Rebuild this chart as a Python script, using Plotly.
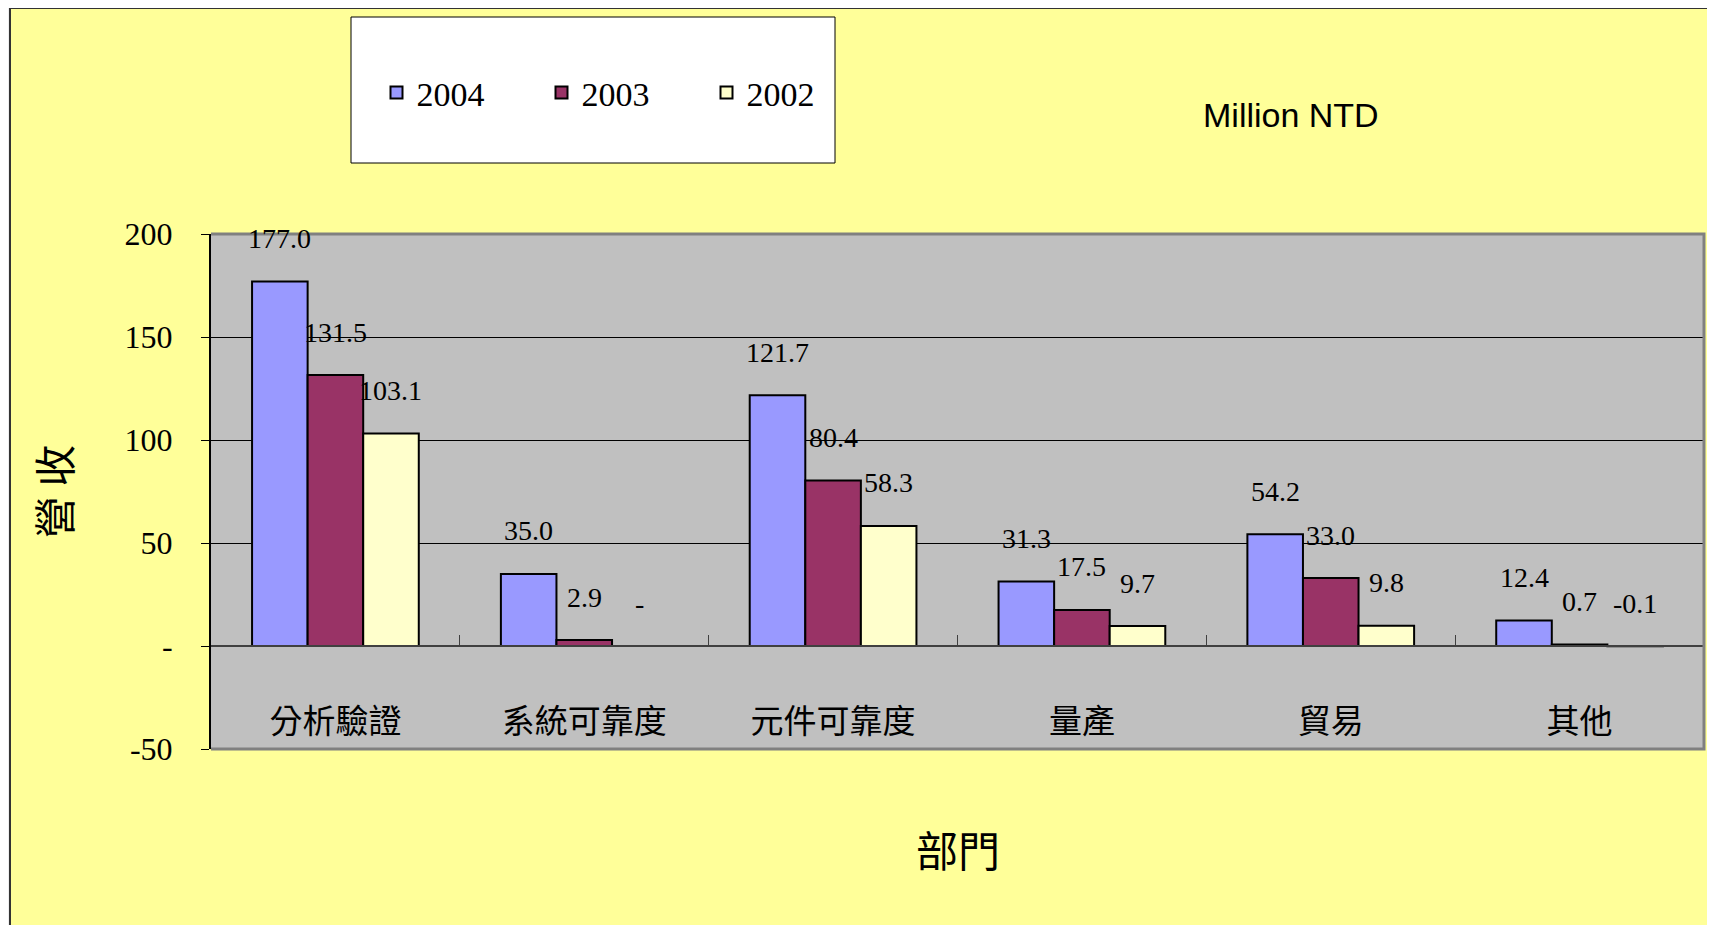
import plotly.graph_objects as go

categories = ["分析驗證", "系統可靠度", "元件可靠度", "量產", "貿易", "其他"]
years = ["2004", "2003", "2002"]
v2004 = [177.0, 35.0, 121.7, 31.3, 54.2, 12.4]
v2003 = [131.5, 2.9, 80.4, 17.5, 33.0, 0.7]
v2002 = [103.1, 0.0, 58.3, 9.7, 9.8, -0.1]
series = [v2004, v2003, v2002]
colors = ["#9999FF", "#993366", "#FFFFCC"]
ytick_vals = [-50, 0, 50, 100, 150, 200]
ytick_text = ["-50", "-", "50", "100", "150", "200"]

# page geometry (browser body has an 8px margin)
OFF = 8
PAGE_W, PAGE_H = 1715, 925
W, H = PAGE_W - OFF, PAGE_H - OFF
PL, PR, PT, PB = 211, 1704, 234, 749          # plot area in page pixels
ML, MT = PL - OFF, PT - OFF
MR, MB = (OFF + W) - PR, (OFF + H) - PB
PW, PH = PR - PL, PB - PT
BARGAP = 0.33


def px_x(p):
    return (p - PL) / PW


def px_y(p):
    return (PB - p) / PH


fig = go.Figure()
for name, vals, col in zip(years, series, colors):
    fig.add_trace(go.Bar(
        x=categories, y=vals, name=name,
        marker=dict(color=col, line=dict(color="black", width=2)),
    ))

# value labels
bw = (1 - BARGAP) / len(series)
annotations = []
for j, vals in enumerate(series):
    for i, v in enumerate(vals):
        txt = "-" if v == 0 else f"{v:.1f}"
        annotations.append(dict(
            x=i + (j - 1) * bw, y=max(v, 0), xref="x", yref="y",
            text=txt, showarrow=False, xanchor="center", yanchor="middle", yshift=43,
            font=dict(family="Liberation Serif", size=28, color="black"),
        ))

annotations.append(dict(
    x=px_x(958), y=px_y(848), xref="paper", yref="paper", text="部門",
    showarrow=False, xanchor="center", yanchor="middle",
    font=dict(family="Noto Sans CJK TC", size=42, color="black"),
))
annotations.append(dict(
    x=px_x(1291), y=px_y(115), xref="paper", yref="paper", text="Million NTD",
    showarrow=False, xanchor="center", yanchor="middle",
    font=dict(family="Liberation Sans", size=34, color="black"),
))

shapes = [
    # left strip outside chart area
    dict(type="rect", xref="paper", yref="paper", x0=px_x(OFF), x1=px_x(9),
         y0=px_y(PAGE_H), y1=px_y(OFF), fillcolor="#EEEEEE", line=dict(width=0), layer="below"),
    # chart area border (left and top)
    dict(type="path", xref="paper", yref="paper",
         path=f"M {px_x(10)},{px_y(PAGE_H)} L {px_x(10)},{px_y(OFF)} L {px_x(PAGE_W)},{px_y(OFF)}",
         line=dict(color="#333333", width=2)),
    # legend box
    dict(type="rect", xref="paper", yref="paper", x0=px_x(351), x1=px_x(835),
         y0=px_y(163), y1=px_y(17), fillcolor="white", line=dict(color="black", width=1),
         layer="below"),
    # plot area border (top, right, bottom)
    dict(type="path", xref="paper", yref="paper", path="M 0,1 L 1,1 L 1,0 L 0,0",
         line=dict(color="#808080", width=3), layer="above"),
]

fig.update_layout(
    width=W, height=H,
    margin=dict(l=ML, r=MR, t=MT, b=MB, pad=0),
    paper_bgcolor="#FFFF99",
    plot_bgcolor="#C0C0C0",
    barmode="group", bargap=BARGAP, bargroupgap=0,
    showlegend=True,
    legend=dict(
        orientation="h", x=px_x(624), xanchor="center",
        y=px_y(93), yanchor="middle", bgcolor="rgba(0,0,0,0)",
        font=dict(family="Liberation Serif", size=34, color="black"),
        entrywidth=120, entrywidthmode="pixels", traceorder="normal",
    ),
    annotations=annotations,
    shapes=shapes,
    xaxis=dict(
        type="category", anchor="free", position=0.2,
        showline=True, linecolor="#404040", linewidth=2,
        ticks="inside", tickson="boundaries", ticklen=10, tickcolor="#404040", tickwidth=1,
        showgrid=False, ticklabelstandoff=46,
        tickfont=dict(family="Noto Sans CJK TC", size=33, color="black"),
    ),
    yaxis=dict(
        range=[-50, 200], tickvals=ytick_vals, ticktext=ytick_text,
        showline=True, linecolor="black", linewidth=2,
        ticks="outside", ticklen=8, tickcolor="black", tickwidth=1,
        showgrid=True, gridcolor="black", gridwidth=1, zeroline=False,
        ticklabelstandoff=22,
        tickfont=dict(family="Liberation Serif", size=32, color="black"),
        title=dict(text="營 收", standoff=40,
                   font=dict(family="Noto Sans CJK TC", size=42, color="black")),
    ),
)

fig.write_html("out.html")
